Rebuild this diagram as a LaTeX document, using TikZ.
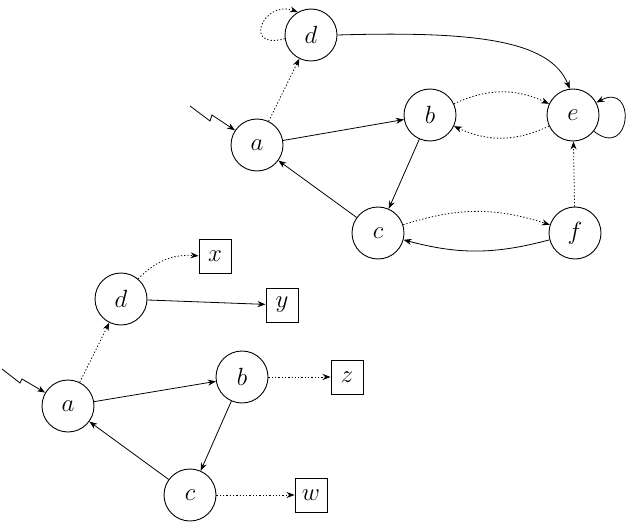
\documentclass[tikz,border=0pt]{standalone}
\usetikzlibrary{arrows.meta}
\begin{document}
\begin{tikzpicture}[x=1pt,y=1pt,
  state/.style={circle,draw,line width=0.9pt,minimum size=52pt,inner sep=0pt,font=\fontsize{25}{28}\selectfont},
  outbox/.style={rectangle,draw,line width=0.9pt,minimum width=32pt,minimum height=34pt,inner sep=0pt,font=\fontsize{25}{28}\selectfont},
  edge/.style={line width=0.8pt,-{Stealth[length=8pt,width=6pt]}},
  dot/.style={edge,dash pattern=on 1.3pt off 2pt}]
\useasboundingbox (0,0) rectangle (626,-524);
% top graph
\node[state] (td) at (311,-35) {$d$};
\node[state] (ta) at (257,-145) {$a$};
\node[state] (tb) at (430,-115) {$b$};
\node[state] (te) at (573,-115) {$e$};
\node[state] (tc) at (378,-233) {$c$};
\node[state] (tf) at (575,-233) {$f$};
\coordinate (ts) at (190,-106);
\coordinate (tz1) at (210,-121);
\coordinate (tz2) at (212,-115);
\draw[edge] (ts) -- (tz1) -- (tz2) -- (ta);
\draw[dot] (ta) -- (td);
\draw[dot] (td.188) .. controls +(195:45) and +(160:36) .. (td.120);
\draw[edge] (td.east) .. controls (475,-31) and (550,-40) .. (te.97);
\draw[edge] (ta) -- (tb);
\draw[dot] (tb) to[bend left=25] (te);
\draw[dot] (te) to[bend left=25] (tb);
\draw[edge] (tb) -- (tc);
\draw[edge] (tc) -- (ta);
\draw[dot] (tc) to[bend left=18] (tf);
\draw[edge] (tf) to[bend left=15] (tc);
\draw[dot] (tf) -- (te);
\draw[edge] (te.-38) .. controls +(-38:48) and +(28:46) .. (te.28);
% bottom graph
\node[state] (bd) at (121,-299) {$d$};
\node[state] (ba) at (68,-406) {$a$};
\node[state] (bb) at (242,-377) {$b$};
\node[state] (bc) at (190,-495) {$c$};
\node[outbox] (bx) at (215,-256) {$x$};
\node[outbox] (by) at (282,-305) {$y$};
\node[outbox] (bz) at (347,-377) {$z$};
\node[outbox] (bw) at (311,-495) {$w$};
\coordinate (bs) at (2,-369);
\coordinate (bz1) at (20,-383);
\coordinate (bz2) at (22,-379);
\draw[edge] (bs) -- (bz1) -- (bz2) -- (ba);
\draw[dot] (ba) -- (bd);
\draw[dot] (bd) to[bend left=25] (bx);
\draw[edge] (bd) -- (by);
\draw[edge] (ba) -- (bb);
\draw[dot] (bb) -- (bz);
\draw[edge] (bb) -- (bc);
\draw[edge] (bc) -- (ba);
\draw[dot] (bc) -- (bw);
\end{tikzpicture}
\end{document}
